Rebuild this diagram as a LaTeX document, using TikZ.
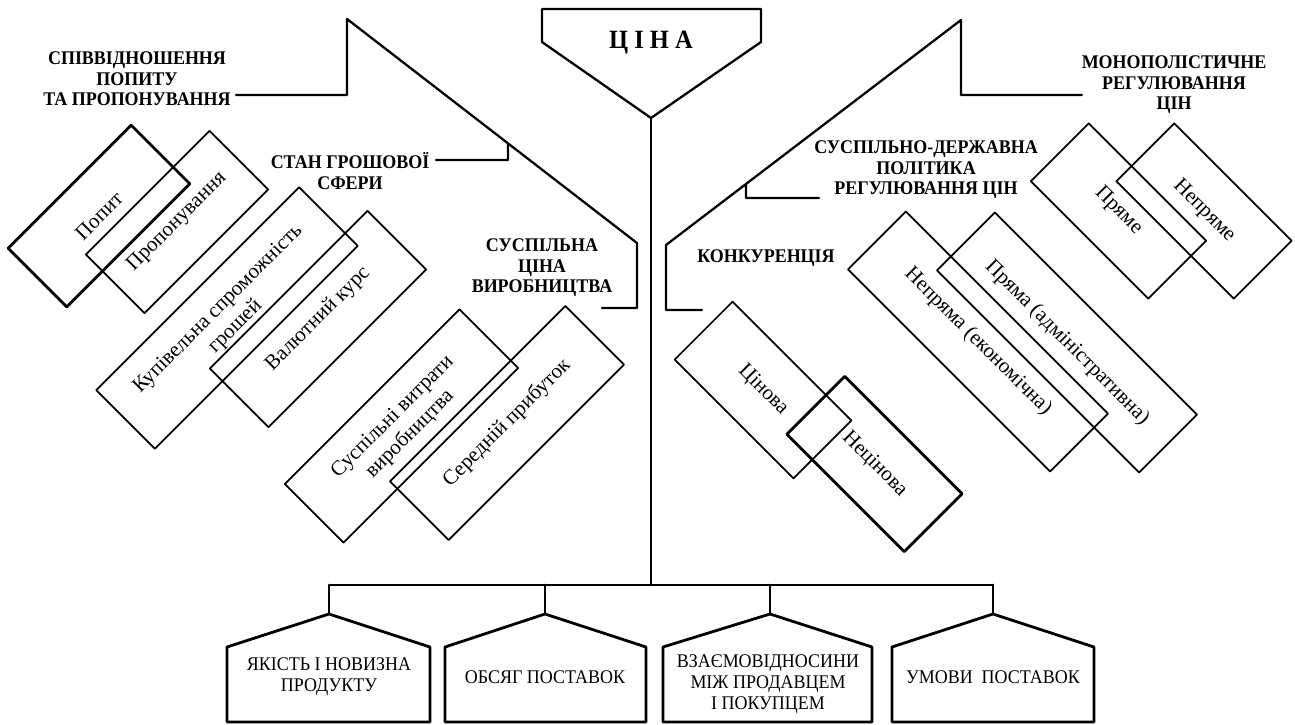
\documentclass[tikz,border=0pt]{standalone}
\usepackage{fontspec}
\setmainfont{Liberation Serif}
\newfontfamily\lblfont[FakeStretch=0.93]{Liberation Serif}
\newfontfamily\lblbold[FakeStretch=0.93]{Liberation Serif Bold}
\begin{document}
\begin{tikzpicture}[x=0.02cm,y=-0.02cm,line join=round,line cap=round,
	font=\fontsize{12}{14}\selectfont,
	lbl/.style={font=\lblbold\fontsize{11}{11.6}\selectfont,align=center,inner sep=0pt},
	foot/.style={font=\lblfont\fontsize{11}{11.8}\selectfont,align=center,inner sep=0pt},
	leftbox/.style={draw,line width=1pt,rotate=45,minimum height=1.66cm,align=center,inner sep=2pt},
	rightbox/.style={draw,line width=1pt,rotate=-45,minimum height=1.64cm,align=center,inner sep=2pt},
	heavy/.style={line width=1.6pt},
	link/.style={line width=1.3pt}]
		\useasboundingbox (0,0) rectangle (1295,724);
		\path
		(542,9) coordinate (P1)
		(761,9) coordinate (P2)
		(761,42) coordinate (P3)
		(651,118) coordinate (P)
		(542,42) coordinate (P4)
		(651,585) coordinate (B)
		(330,585) coordinate (B1)
		(993,585) coordinate (B4)
		(347,19) coordinate (L)
		(637,243) coordinate (L1)
		(637,308) coordinate (L2)
		(602,308) coordinate (L3)
		(347,95) coordinate (La)
		(236,95) coordinate (Lb)
		(508,143) coordinate (Lc)
		(508,160) coordinate (Ld)
		(436,160) coordinate (Le)
		(961,20) coordinate (R)
		(666,245) coordinate (R1)
		(666,310) coordinate (R2)
		(702,310) coordinate (R3)
		(961,95) coordinate (Ra)
		(1082,95) coordinate (Rb)
		(746,184) coordinate (Rc)
		(746,198) coordinate (Rd)
		(819,198) coordinate (Re)
		;
		% top
		\draw[link]
		(P1)--(P2)--(P3)--(P)--(P4)--cycle
		;
		\node[font=\lblbold\fontsize{15}{16}\selectfont] (price) at (651,43) {Ц І Н А};
		\draw[heavy]
		(P)--(B)
		(B1)--(B4)
		;
		% branches
		\draw[link]
		(Lb)--(La)--(L)--(L1)--(L2)--(L3)
		(Lc)--(Ld)--(Le)
		(Rb)--(Ra)--(R)--(R1)--(R2)--(R3)
		(Rc)--(Rd)--(Re)
		;
		\node[lbl] (supply) at (137,79) {СПІВВІДНОШЕННЯ\\ПОПИТУ\\ТА ПРОПОНУВАННЯ};
		\node[lbl] (money) at (350,171) {СТАН ГРОШОВОЇ\\СФЕРИ};
		\node[lbl] (social) at (542,268) {СУСПІЛЬНА\\ЦІНА\\ВИРОБНИЦТВА};
		\node[lbl] (monopoly) at (1174,85) {МОНОПОЛІСТИЧНЕ\\РЕГУЛЮВАННЯ\\ЦІН};
		\node[lbl] (state) at (926,170) {СУСПІЛЬНО-ДЕРЖАВНА\\ПОЛІТИКА\\РЕГУЛЮВАННЯ ЦІН};
		\node[lbl] (rivalry) at (766,258) {КОНКУРЕНЦІЯ};
		% left boxes
		\node[leftbox,heavy,minimum width=3.48cm] (demand) at (99,216) {Попит};
		\node[leftbox,minimum width=3.5cm] (offer) at (177,222) {Пропонування};
		\node[leftbox,minimum width=5.74cm] (power) at (227,318) {Купівельна спроможність\\грошей};
		\node[leftbox,minimum width=4.46cm] (rate) at (318,319) {Валютний курс};
		\node[leftbox,minimum width=4.94cm] (costs) at (401.5,426) {Суспільні витрати\\виробництва};
		\node[leftbox,minimum width=4.96cm] (profit) at (507,423) {Середній прибуток};
		% right boxes
		\node[rightbox,minimum width=3.36cm] (pricebased) at (763,390) {Цінова};
		\node[rightbox,heavy,minimum width=3.32cm] (nonprice) at (874.5,464) {Нецінова};
		\node[rightbox,minimum width=5.72cm] (indirect) at (978,341.5) {Непряма (економічна)};
		\node[rightbox,minimum width=5.72cm] (direct) at (1067,342.5) {Пряма (адміністративна)};
		\node[rightbox,minimum width=3.32cm] (directm) at (1118.5,211) {Пряме};
		\node[rightbox,minimum width=3.32cm] (indirectm) at (1204,211) {Непряме};
		% bottom
		\foreach \l/\m/\r [count=\i] in {227/329/430,445/545/646,663/770/872,892/993/1094}
		\draw[heavy] (\l,722)--(\l,647)--(\m,614) coordinate (roof\i)--(\r,647)--(\r,722)--cycle;
		\foreach \i in {1,...,4}
		\draw[heavy] (roof\i |- B)--(roof\i);
		\node[foot] (quality) at (329,677) {ЯКІСТЬ І НОВИЗНА\\ПРОДУКТУ};
		\node[foot] (volume) at (545,677) {ОБСЯГ ПОСТАВОК};
		\node[foot] (relations) at (768,684) {ВЗАЄМОВІДНОСИНИ\\МІЖ ПРОДАВЦЕМ\\І ПОКУПЦЕМ};
		\node[foot] (terms) at (993,677) {УМОВИ \ ПОСТАВОК};
\end{tikzpicture}
\end{document}
